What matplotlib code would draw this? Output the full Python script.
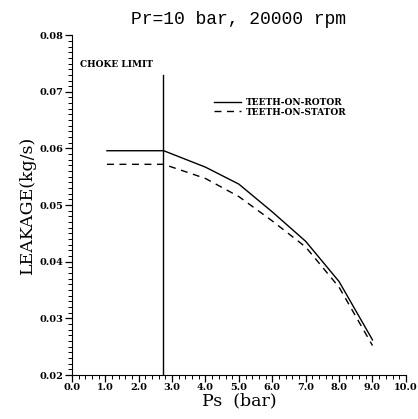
import numpy as np
import matplotlib.pyplot as plt
from matplotlib.ticker import MultipleLocator

# data
ps_rotor = [1.05, 2.75, 4.0, 5.0, 6.0, 7.0, 8.0, 9.0]
leak_rotor = [0.0596, 0.0596, 0.0567, 0.0537, 0.0488, 0.0436, 0.0365, 0.0262]
ps_stator = [1.05, 2.75, 4.0, 5.0, 6.0, 7.0, 8.0, 9.0]
leak_stator = [0.0572, 0.0572, 0.0547, 0.0515, 0.0472, 0.0426, 0.0355, 0.0252]
choke_ps = 2.73
choke_top = 0.0729

x_ticks = np.arange(0, 10.5, 1.0)
y_ticks = [0.02, 0.03, 0.04, 0.05, 0.06, 0.07, 0.08]

serif = 'DejaVu Serif'

fig = plt.figure(figsize=(4.18, 4.19), dpi=100)
ax = fig.add_axes([0.172, 0.105, 0.799, 0.811])

ax.plot(ps_rotor, leak_rotor, color='black', lw=1.0, label='TEETH-ON-ROTOR')
ax.plot(ps_stator, leak_stator, color='black', lw=1.0, ls=(0, (5, 4)),
        label='TEETH-ON-STATOR')
ax.plot([choke_ps, choke_ps], [0.02, choke_top], color='black', lw=1.0)
ax.text(0.25, 0.0740, 'CHOKE LIMIT', family=serif, fontsize=6.5,
        fontweight='bold', va='bottom')

ax.set_xlim(0, 10)
ax.set_ylim(0.02, 0.08)
ax.set_xticks(x_ticks)
ax.set_xticklabels(['%.1f' % v for v in x_ticks], family=serif,
                   fontsize=7, fontweight='bold')
ax.set_yticks(y_ticks)
ax.set_yticklabels(['%.2f' % v for v in y_ticks], family=serif,
                   fontsize=7, fontweight='bold')
ax.xaxis.set_minor_locator(MultipleLocator(0.2))
ax.yaxis.set_minor_locator(MultipleLocator(0.001))
ax.tick_params(which='major', length=5, width=0.9, pad=1)
ax.tick_params(which='minor', length=3, width=0.7)

for s in ['top', 'right']:
    ax.spines[s].set_visible(False)

ax.set_xlabel('Ps  (bar)', family=serif, fontsize=12.5, labelpad=0)
ax.set_ylabel('LEAKAGE(kg/s)', family=serif, fontsize=12.5, labelpad=3)
ax.set_title('Pr=10 bar, 20000 rpm', family='Liberation Mono', fontsize=13,
             pad=8)

leg = ax.legend(loc='upper left', bbox_to_anchor=(0.40, 0.84), frameon=False,
                handlelength=3.0, handletextpad=0.6, labelspacing=0.1,
                prop={'family': serif, 'size': 6.5, 'weight': 'bold'})

fig.savefig('out.png', dpi=100)
